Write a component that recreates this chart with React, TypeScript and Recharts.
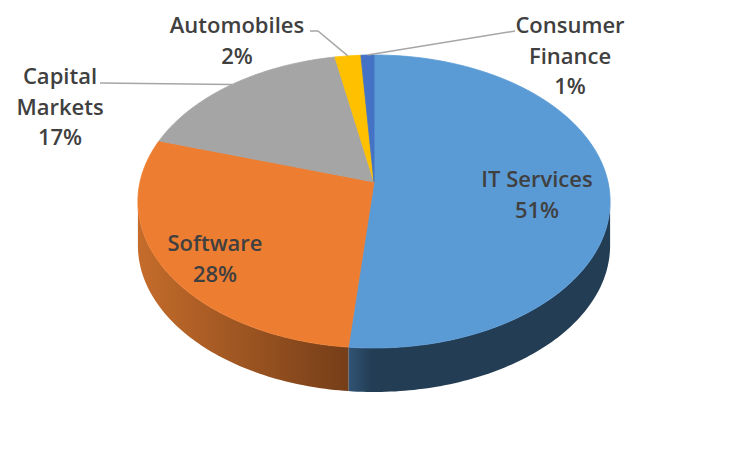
import { Pie, PieChart } from 'recharts'

const CATEGORIES = ['IT Services', 'Software', 'Capital Markets', 'Automobiles', 'Consumer Finance']
const SHARES = [51, 28, 17, 2, 1]

const TOP_COLORS = ['#5B9BD5', '#ED7D31', '#A5A5A5', '#FFC000', '#4472C4']
const SIDE_LIGHT = ['#315475', '#C56C2B', '#6E6E6E', '#A67C00', '#2B4A80']
const SIDE_DARK = ['#233D54', '#753E18', '#555555', '#7F6000', '#203864']
const SIDE_FADE = [0.09, 1, 1, 1, 1]

// label placement (baseline of first line, centred on x)
const LABEL_LAYOUT = [
  { x: 537, y: 187, wrap: false, elbow: [] as number[][] },
  { x: 215, y: 251, wrap: false, elbow: [] as number[][] },
  { x: 60, y: 84, wrap: true, elbow: [[100, 83]] },
  { x: 237, y: 33, wrap: false, elbow: [[310, 31], [318, 31]] },
  { x: 570, y: 33, wrap: true, elbow: [[515, 31]] },
]

// perspective of the tilted disc
const TILT = 0.615
const PERSP = 0.133
const DEPTH = 44
const LINE_GAP = 30.5

const rows = CATEGORIES.map((name, i) => ({ name, value: SHARES[i] }))

const projector = (cx: number, cy: number, r: number) => (angle: number, dy = 0) => {
  const rad = (angle * Math.PI) / 180
  const d = 1 + PERSP * Math.sin(rad)
  return [cx + (r * Math.cos(rad)) / d, cy - (r * TILT * Math.sin(rad)) / d + dy]
}

const rim = (pt: (a: number, dy?: number) => number[], from: number, to: number, dy = 0) => {
  const steps = Math.max(2, Math.ceil(Math.abs(from - to)))
  const out: string[] = []
  for (let s = 0; s <= steps; s++) {
    const [x, y] = pt(from + ((to - from) * s) / steps, dy)
    out.push(`${x.toFixed(2)},${y.toFixed(2)}`)
  }
  return out
}

const renderSlice = (props: any) => {
  const { cx, cy, outerRadius, startAngle, endAngle, index } = props
  const pt = projector(cx, cy, outerRadius)
  const top = `M${cx},${cy} L${rim(pt, startAngle, endAngle).join(' L')} Z`

  // silhouette limits of the front wall
  const edge = (Math.asin(PERSP) * 180) / Math.PI
  const hi = Math.max(startAngle, endAngle)
  const lo = Math.min(startAngle, endAngle)
  const walls: string[] = []
  for (const [fHi, fLo] of [[-edge, -180 + edge], [-360 - edge, -540 + edge]]) {
    const a = Math.min(hi, fHi)
    const b = Math.max(lo, fLo)
    if (a - b > 0.01) {
      const upper = rim(pt, a, b)
      const lower = rim(pt, b, a, DEPTH)
      walls.push(`M${upper.join(' L')} L${lower.join(' L')} Z`)
    }
  }
  const gid = `side-${index}`

  return (
    <g>
      <defs>
        <linearGradient id={gid} x1="0" y1="0" x2="1" y2="0">
          <stop offset="0" stopColor={SIDE_LIGHT[index]} />
          <stop offset={SIDE_FADE[index]} stopColor={SIDE_DARK[index]} />
          <stop offset="1" stopColor={SIDE_DARK[index]} />
        </linearGradient>
      </defs>
      {walls.map((d, k) => (
        <path key={k} d={d} fill={`url(#${gid})`} stroke="none" />
      ))}
      <path d={top} fill={TOP_COLORS[index]} stroke={TOP_COLORS[index]} strokeWidth={0.8} strokeLinejoin="round" />
    </g>
  )
}

const renderLabel = (props: any) => {
  const { cx, cy, outerRadius, midAngle, index } = props
  const layout = LABEL_LAYOUT[index]
  const name = CATEGORIES[index]
  const lines = [...(layout.wrap ? name.split(' ') : [name]), `${SHARES[index]}%`]
  const pt = projector(cx, cy, outerRadius)
  const leader = layout.elbow.length ? [...layout.elbow, pt(midAngle)] : []

  return (
    <g>
      {leader.length > 0 && (
        <polyline
          points={leader.map((p) => p.join(',')).join(' ')}
          fill="none"
          stroke="#A6A6A6"
          strokeWidth={1.5}
        />
      )}
      <text
        x={layout.x}
        y={layout.y}
        textAnchor="middle"
        fill="#404040"
        fontFamily="'Open Sans', sans-serif"
        fontWeight={600}
        fontSize={22}
      >
        {lines.map((line, k) => (
          <tspan key={k} x={layout.x} dy={k === 0 ? 0 : LINE_GAP}>
            {line}
          </tspan>
        ))}
      </text>
    </g>
  )
}

export default function App() {
  return (
    <div style={{ position: 'absolute', left: 0, top: 0, width: 750, height: 450, background: '#fff' }}>
      <PieChart width={750} height={450} margin={{ top: 0, right: 0, bottom: 0, left: 0 }}>
        <Pie
          data={rows}
          dataKey="value"
          nameKey="name"
          cx={374}
          cy={182}
          outerRadius={234}
          startAngle={90}
          endAngle={-270}
          fill="none"
          stroke="none"
          label={renderSlice}
          labelLine={false}
          isAnimationActive={false}
        />
        <Pie
          data={rows}
          dataKey="value"
          nameKey="name"
          cx={374}
          cy={182}
          outerRadius={234}
          startAngle={90}
          endAngle={-270}
          fill="none"
          stroke="none"
          label={renderLabel}
          labelLine={false}
          isAnimationActive={false}
        />
      </PieChart>
    </div>
  )
}
